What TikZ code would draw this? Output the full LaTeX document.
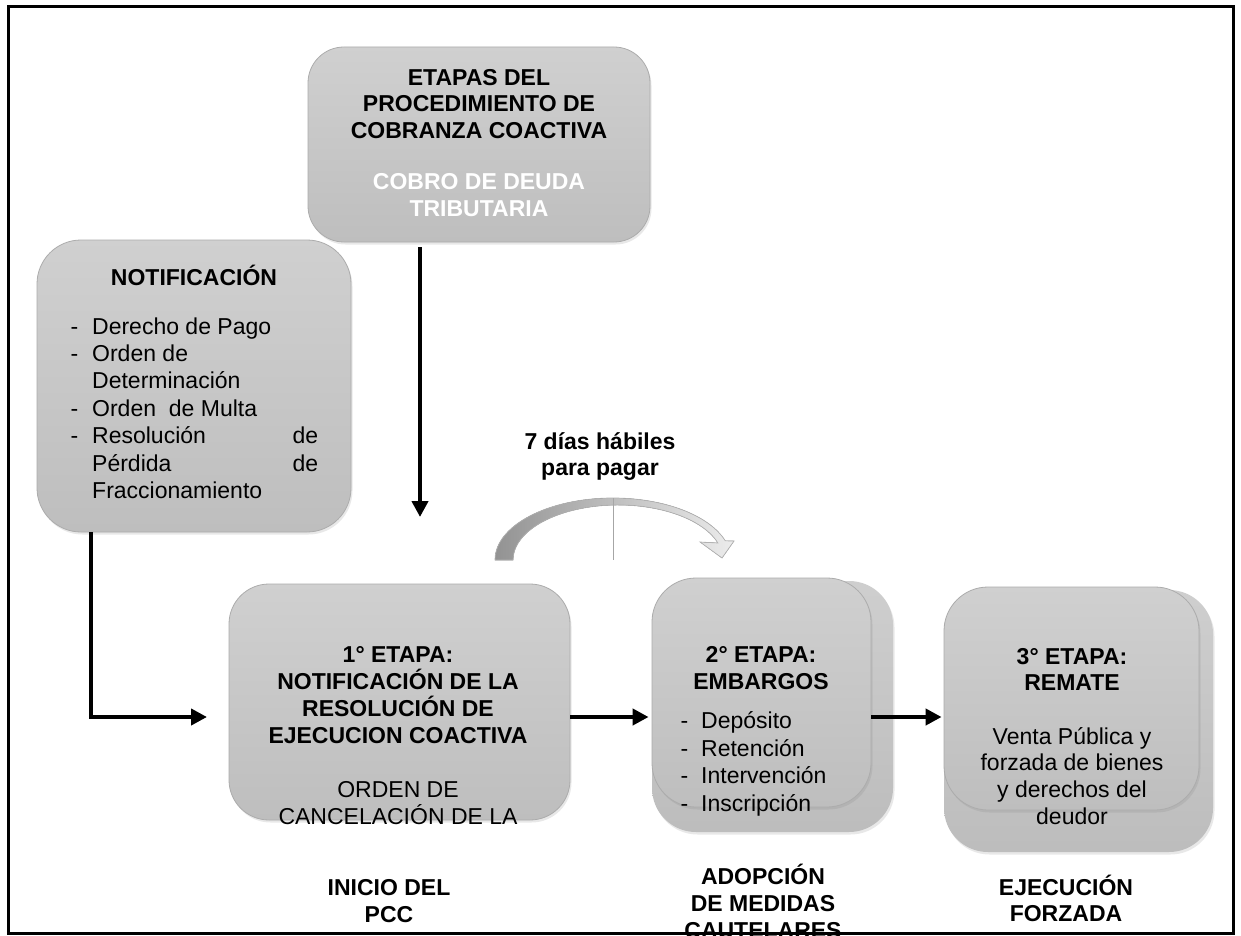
\documentclass[tikz,border=0pt]{standalone}
\usepackage{fontspec}
\setmainfont{Liberation Sans}
\usetikzlibrary{arrows.meta,calc,shadows}
\begin{document}
\begin{tikzpicture}[x=1pt,y=-1pt,
  box/.style={draw=gray!65, line width=0.8pt, top color=gray!37, bottom color=gray!51, rounded corners=#1, inner sep=0pt,
    drop shadow={shadow xshift=1.5pt, shadow yshift=-2.5pt, opacity=0.18, fill=gray}},
  box/.default=38pt,
  backbox/.style={draw=none, top color=gray!38, bottom color=gray!52, rounded corners=44pt, inner sep=0pt,
    drop shadow={shadow xshift=1.5pt, shadow yshift=-2.5pt, opacity=0.18, fill=gray}},
  conn/.style={line width=4pt, -{Triangle[length=16pt,width=16pt]}},
  ttl/.style={font=\fontsize{23}{26.8}\selectfont\bfseries, align=center, inner sep=0pt},
  txt/.style={font=\fontsize{23}{26.8}\selectfont, align=center, inner sep=0pt},
  lst/.style={font=\fontsize{23}{27.4}\selectfont, align=left, inner sep=0pt, anchor=west}]
\useasboundingbox (0,0) rectangle (1241,936);
\fill[white] (0,0) rectangle (1241,936);

% boxes
\node[box=36pt, minimum width=342pt, minimum height=195pt] (top) at (479,144.5) {};
\node[box=44pt, minimum width=314pt, minimum height=292pt] (notif) at (194,386) {};
\node[box=40pt, minimum width=341pt, minimum height=236pt] (e1) at (399.5,702) {};
\node[backbox, minimum width=241pt, minimum height=251pt] (e2b) at (772.5,706.5) {};
\node[box=44pt, minimum width=219pt, minimum height=229pt] (e2) at (761.5,692.5) {};
\node[backbox, minimum width=269pt, minimum height=262pt] (e3b) at (1078.5,721) {};
\node[box=44pt, minimum width=255pt, minimum height=223pt] (e3) at (1071.5,698.5) {};

% texts
\node[ttl] (tt1) at (479,104) {ETAPAS DEL\\PROCEDIMIENTO DE\\COBRANZA COACTIVA};
\node[ttl, text=white] (tt2) at (479,195) {COBRO DE DEUDA\\TRIBUTARIA};

\node[ttl] (nt) at (194,275) {NOTIFICACIÓN};
\node[lst] (nl) at (92,408) {\llap{-\hspace{14pt}}Derecho de Pago\\
\llap{-\hspace{14pt}}Orden de\\
Determinación\\
\llap{-\hspace{14pt}}Orden\ \ de Multa\\
\llap{-\hspace{14pt}}\makebox[226pt][s]{Resolución\hfill de}\\
\makebox[226pt][s]{Pérdida\hfill de}\\
Fraccionamiento};

\node[ttl] (e1t) at (398,695) {1° ETAPA:\\NOTIFICACIÓN DE LA\\RESOLUCIÓN DE\\EJECUCION COACTIVA};
\node[txt] (e1s) at (398,803) {ORDEN DE\\CANCELACIÓN DE LA};

\node[ttl] (e2t) at (761,668) {2° ETAPA:\\EMBARGOS};
\node[lst] (e2l) at (701,764) {\llap{-\hspace{13pt}}Depósito\\
\llap{-\hspace{13pt}}Retención\\
\llap{-\hspace{13pt}}Intervención\\
\llap{-\hspace{13pt}}Inscripción};

\node[ttl] (e3t) at (1072,669.5) {3° ETAPA:\\REMATE};
\node[txt] (e3s) at (1072,776) {Venta Pública y\\forzada de bienes\\y derechos del\\deudor};

\node[ttl] (lb1) at (389,901) {INICIO DEL\\PCC};
\node[ttl] (lb2) at (763,901.5) {ADOPCIÓN\\DE MEDIDAS\\CAUTELARES};
\node[ttl] (lb3) at (1066,898.5) {EJECUCIÓN\\FORZADA};

\node[ttl] (dias) at (600,456.5) {7 días hábiles\\para pagar};

% curved arrow
\coordinate (cc) at (613,560);
\fill[left color=gray!85, right color=gray!15, draw=gray!60, line width=0.7pt]
  (495,560) arc[start angle=180, end angle=342, x radius=118, y radius=62]
  -- (734,541) -- (722,558) -- (700,542) -- (717.9,543)
  arc[start angle=342, end angle=180, x radius=105, y radius=55] -- cycle;
\coordinate (vlTop) at (613,498);
\draw[gray!70, line width=1pt] (vlTop) -- (cc);

% connectors
\coordinate (vEnd) at (420,517);
\coordinate (elbX) at (91,0);
\coordinate (elbTip) at (207,717);
\coordinate (ay) at (0,717);
\draw[conn, shorten <=5pt] (top.south -| vEnd) -- (vEnd);
\draw[conn] (notif.south -| elbX) |- (elbTip);
\draw[conn, shorten >=3pt] (e1.east |- ay) -- (e2.west |- ay);
\draw[conn, shorten >=2pt] (e2.east |- ay) -- (e3.west |- ay);

% frame
\draw[line width=3pt] (8,7) rectangle (1233,933);
\end{tikzpicture}
\end{document}
